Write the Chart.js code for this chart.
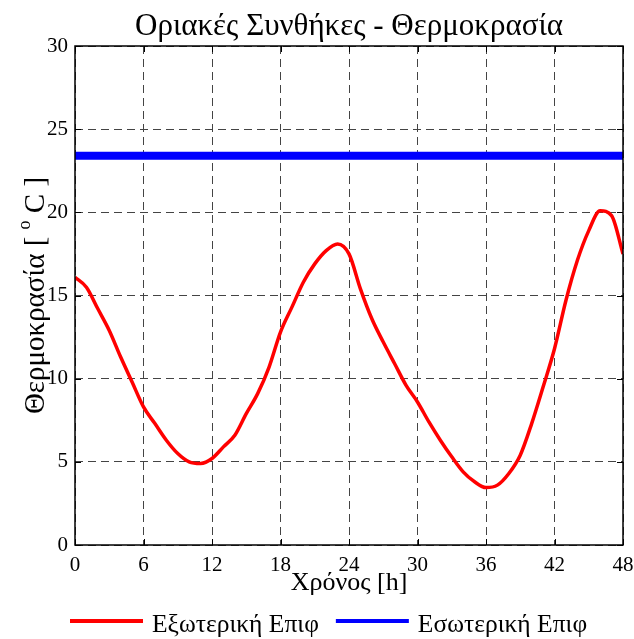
<!DOCTYPE html>
<html>
<head>
<meta charset="utf-8">
<script src="https://cdn.jsdelivr.net/npm/chart.js@4"></script>
<style>
  html, body { margin: 0; padding: 0; background: #ffffff; }
  canvas { display: block; }
</style>
</head>
<body>
<canvas id="chart" width="634" height="639"></canvas>
<script>
// Time axis (hours) and outer-surface temperature (°C)
const hours = [0, 1, 2, 3, 4, 5, 6, 7, 8, 9, 10, 11, 12, 13, 14, 15, 16, 17, 18, 19, 20, 21, 22, 23, 24,
               25, 26, 27, 28, 29, 30, 31, 32, 33, 34, 35, 36, 37, 38, 39, 40, 41, 42, 43, 44, 45, 46, 47, 48];
const outerTemp = [16.1, 15.5, 14.2, 12.9, 11.3, 9.8, 8.3, 7.3, 6.3, 5.5, 5.0, 4.9, 5.2, 5.9, 6.6, 7.9, 9.1,
                   10.7, 12.8, 14.3, 15.8, 16.9, 17.7, 18.1, 17.5, 15.4, 13.6, 12.2, 10.9, 9.6, 8.6, 7.4,
                   6.3, 5.3, 4.4, 3.8, 3.45, 3.6, 4.3, 5.4, 7.3, 9.5, 11.8, 14.7, 17.1, 18.9, 20.1, 19.8, 17.5];

// Inner-surface temperature (held constant)
const innerHours = [0, 48];
const innerTemp = [23.4, 23.4];

// Tick positions
const xTicks = [0, 6, 12, 18, 24, 30, 36, 42, 48];
const yTicks = [0, 5, 10, 15, 20, 25, 30];

// Text
const chartTitle = 'Οριακές Συνθήκες - Θερμοκρασία';
const xTitle = 'Χρόνος [h]';
const yTitleMain = 'Θερμοκρασία [ ';
const yTitleSup = 'o';
const yTitleEnd = ' C ]';
const outerLabel = 'Εξωτερική Επιφ';
const innerLabel = 'Εσωτερική Επιφ';

const SERIF = "'Liberation Serif', 'Times New Roman', serif";

const toPoints = (xs, ys) => xs.map((v, i) => ({ x: v, y: ys[i] }));

// Box frame, inward tick marks, title, rotated y title and the legend row
const framePlugin = {
  id: 'frame',
  afterDatasetsDraw(chart) {
    const { ctx, chartArea: a, scales: { x, y } } = chart;
    ctx.save();
    ctx.strokeStyle = '#000';
    ctx.lineWidth = 1.5;
    ctx.strokeRect(a.left, a.top, a.right - a.left, a.bottom - a.top);
    ctx.lineWidth = 1;
    ctx.beginPath();
    x.ticks.forEach(t => {
      const px = Math.round(x.getPixelForValue(t.value)) + 0.5;
      ctx.moveTo(px, a.bottom); ctx.lineTo(px, a.bottom - 6);
      ctx.moveTo(px, a.top); ctx.lineTo(px, a.top + 6);
    });
    y.ticks.forEach(t => {
      const py = Math.round(y.getPixelForValue(t.value)) + 0.5;
      ctx.moveTo(a.left, py); ctx.lineTo(a.left + 6, py);
      ctx.moveTo(a.right, py); ctx.lineTo(a.right - 6, py);
    });
    ctx.stroke();
    ctx.restore();
  },
  afterDraw(chart) {
    const { ctx, chartArea: a } = chart;
    ctx.save();
    ctx.fillStyle = '#000';

    // chart title, centred over the plot box
    ctx.font = '31px ' + SERIF;
    ctx.textAlign = 'center';
    ctx.textBaseline = 'alphabetic';
    ctx.fillText(chartTitle, (a.left + a.right) / 2, 35);

    // y axis title with a raised "o"
    const mainFont = '29px ' + SERIF;
    const supFont = '18px ' + SERIF;
    ctx.font = mainFont;
    const w1 = ctx.measureText(yTitleMain).width;
    const w3 = ctx.measureText(yTitleEnd).width;
    ctx.font = supFont;
    const w2 = ctx.measureText(yTitleSup).width;
    const total = w1 + w2 + w3;
    ctx.save();
    ctx.translate(36, (a.top + a.bottom) / 2);
    ctx.rotate(-Math.PI / 2);
    ctx.textBaseline = 'middle';
    ctx.textAlign = 'left';
    let cx = -total / 2;
    ctx.font = mainFont;
    ctx.fillText(yTitleMain, cx, 0);
    cx += w1;
    ctx.font = supFont;
    ctx.fillText(yTitleSup, cx, -11);
    cx += w2;
    ctx.font = mainFont;
    ctx.fillText(yTitleEnd, cx, 0);
    ctx.restore();

    // legend row: line sample followed by the series name
    const sample = 73, gap = 9, itemGap = 17, lineY = 621, textY = 632;
    ctx.font = '25.5px ' + SERIF;
    ctx.textAlign = 'left';
    ctx.textBaseline = 'alphabetic';
    let lx = 70;
    chart.data.datasets.forEach(ds => {
      ctx.strokeStyle = ds.borderColor;
      ctx.lineWidth = 4;
      ctx.beginPath();
      ctx.moveTo(lx, lineY);
      ctx.lineTo(lx + sample, lineY);
      ctx.stroke();
      lx += sample + gap;
      ctx.fillText(ds.label, lx, textY);
      lx += ctx.measureText(ds.label).width + itemGap;
    });
    ctx.restore();
  }
};

new Chart(document.getElementById('chart'), {
  type: 'line',
  data: {
    datasets: [
      {
        label: outerLabel,
        data: toPoints(hours, outerTemp),
        borderColor: '#ff0000',
        backgroundColor: '#ff0000',
        borderWidth: 3.5,
        pointRadius: 0,
        cubicInterpolationMode: 'monotone'
      },
      {
        label: innerLabel,
        data: toPoints(innerHours, innerTemp),
        borderColor: '#0000ff',
        backgroundColor: '#0000ff',
        borderWidth: 8,
        pointRadius: 0
      }
    ]
  },
  options: {
    responsive: false,
    animation: false,
    devicePixelRatio: 1,
    layout: { padding: { left: 0, right: 11, top: 46, bottom: 40 } },
    plugins: {
      title: { display: false },
      legend: { display: false },
      tooltip: { enabled: false }
    },
    scales: {
      x: {
        type: 'linear',
        min: 0,
        max: 48,
        afterBuildTicks: s => { s.ticks = xTicks.map(v => ({ value: v })); },
        afterFit: s => { s.height = 54; s.paddingLeft = 0; s.paddingRight = 0; },
        ticks: { color: '#000', font: { family: SERIF, size: 21 }, padding: 8, maxRotation: 0 },
        grid: { color: '#444', lineWidth: 1, drawTicks: false },
        border: { display: false, dash: [8, 5] },
        title: {
          display: true,
          text: xTitle,
          color: '#000',
          font: { family: SERIF, size: 26 },
          padding: { top: 0, bottom: 0 }
        }
      },
      y: {
        type: 'linear',
        min: 0,
        max: 30,
        afterBuildTicks: s => { s.ticks = yTicks.map(v => ({ value: v })); },
        afterFit: s => { s.width = 75; s.paddingTop = 0; s.paddingBottom = 0; },
        ticks: { color: '#000', font: { family: SERIF, size: 21 }, padding: 7 },
        grid: { color: '#444', lineWidth: 1, drawTicks: false },
        border: { display: false, dash: [8, 5] }
      }
    }
  },
  plugins: [framePlugin]
});
</script>
</body>
</html>
